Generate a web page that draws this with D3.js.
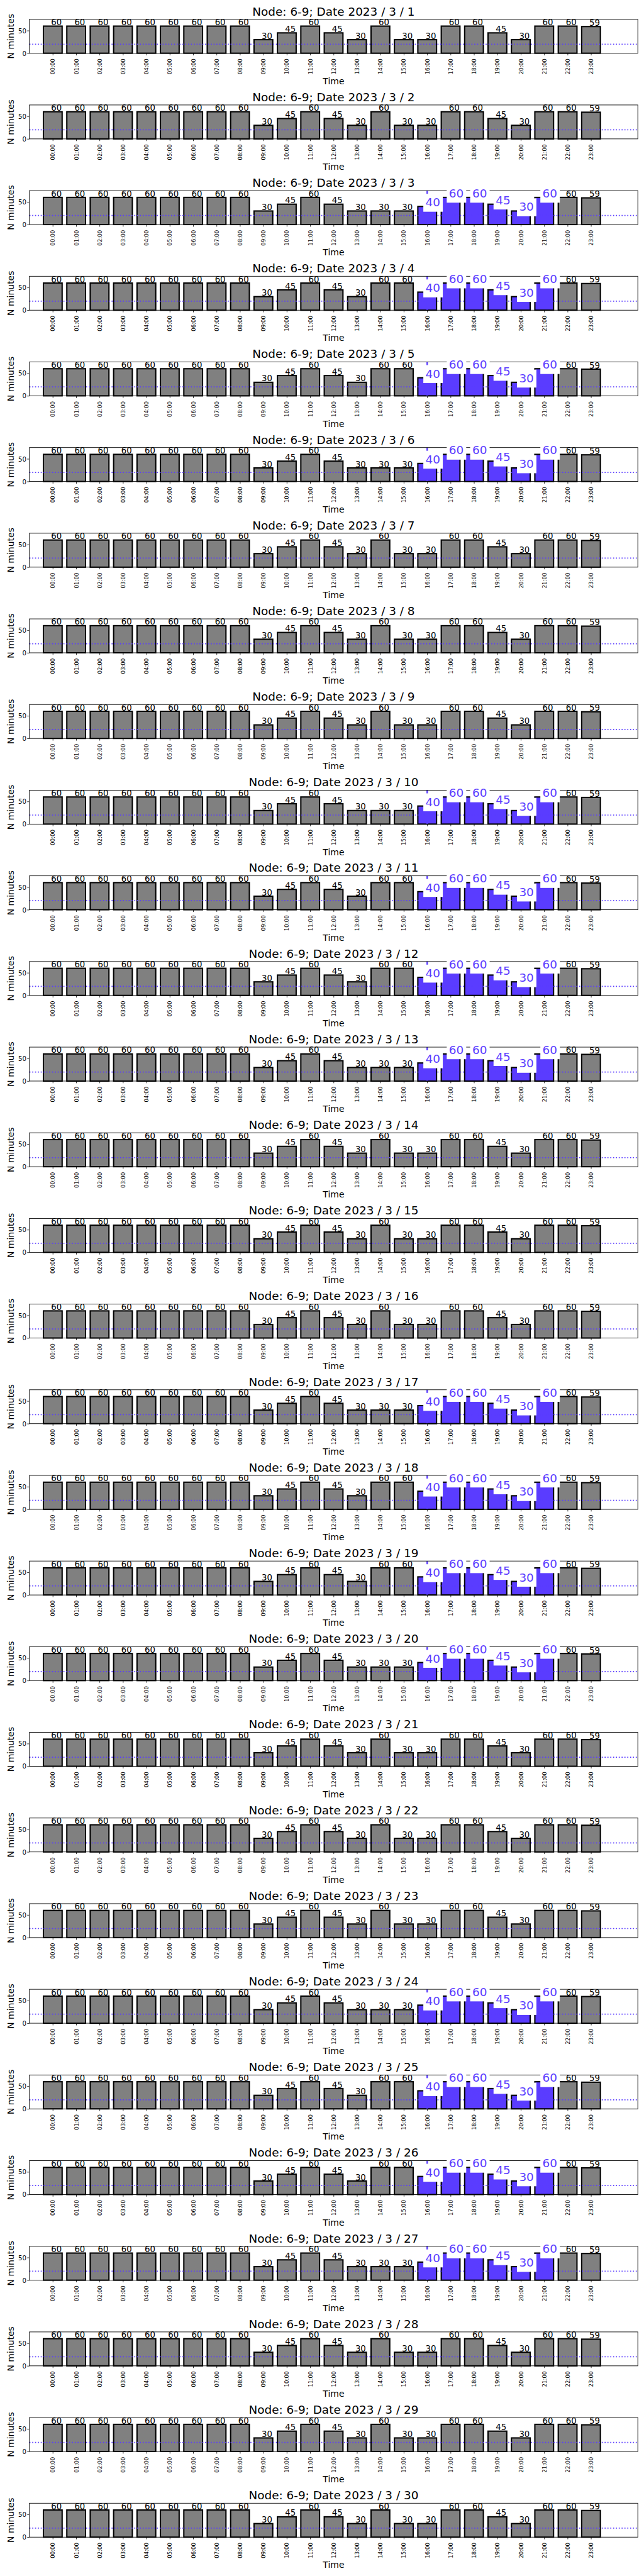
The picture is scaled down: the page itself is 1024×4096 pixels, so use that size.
<!DOCTYPE html>
<html>
<head>
<meta charset="utf-8">
<script src="https://cdn.jsdelivr.net/npm/d3@7"></script>
<style>
  html, body { margin: 0; padding: 0; background: #fff; }
  svg { display: block; }
  text { font-family: "DejaVu Sans", sans-serif; }
</style>
</head>
<body>
<div id="chart"></div>
<script>
// ---------------- data ----------------
const hours = ["00:00","01:00","02:00","03:00","04:00","05:00","06:00","07:00",
               "08:00","09:00","10:00","11:00","12:00","13:00","14:00","15:00",
               "16:00","17:00","18:00","19:00","20:00","21:00","22:00","23:00"];
const node = "6-9";
const dates = ["2023 / 3 / 1","2023 / 3 / 2","2023 / 3 / 3","2023 / 3 / 4","2023 / 3 / 5",
               "2023 / 3 / 6","2023 / 3 / 7","2023 / 3 / 8","2023 / 3 / 9","2023 / 3 / 10",
               "2023 / 3 / 11","2023 / 3 / 12","2023 / 3 / 13","2023 / 3 / 14","2023 / 3 / 15",
               "2023 / 3 / 16","2023 / 3 / 17","2023 / 3 / 18","2023 / 3 / 19","2023 / 3 / 20",
               "2023 / 3 / 21","2023 / 3 / 22","2023 / 3 / 23","2023 / 3 / 24","2023 / 3 / 25",
               "2023 / 3 / 26","2023 / 3 / 27","2023 / 3 / 28","2023 / 3 / 29","2023 / 3 / 30"];
// minutes per hour, one row per date
const minutes = [
  [60,60,60,60,60,60,60,60,60,30,45,60,45,30,60,30,30,60,60,45,30,60,60,59], // 3/1
  [60,60,60,60,60,60,60,60,60,30,45,60,45,30,60,30,30,60,60,45,30,60,60,59], // 3/2
  [60,60,60,60,60,60,60,60,60,30,45,60,45,30,30,30,40,60,60,45,30,60,60,59], // 3/3
  [60,60,60,60,60,60,60,60,60,30,45,60,45,30,60,60,40,60,60,45,30,60,60,59], // 3/4
  [60,60,60,60,60,60,60,60,60,30,45,60,45,30,60,60,40,60,60,45,30,60,60,59], // 3/5
  [60,60,60,60,60,60,60,60,60,30,45,60,45,30,30,30,40,60,60,45,30,60,60,59], // 3/6
  [60,60,60,60,60,60,60,60,60,30,45,60,45,30,60,30,30,60,60,45,30,60,60,59], // 3/7
  [60,60,60,60,60,60,60,60,60,30,45,60,45,30,60,30,30,60,60,45,30,60,60,59], // 3/8
  [60,60,60,60,60,60,60,60,60,30,45,60,45,30,60,30,30,60,60,45,30,60,60,59], // 3/9
  [60,60,60,60,60,60,60,60,60,30,45,60,45,30,30,30,40,60,60,45,30,60,60,59], // 3/10
  [60,60,60,60,60,60,60,60,60,30,45,60,45,30,60,60,40,60,60,45,30,60,60,59], // 3/11
  [60,60,60,60,60,60,60,60,60,30,45,60,45,30,60,60,40,60,60,45,30,60,60,59], // 3/12
  [60,60,60,60,60,60,60,60,60,30,45,60,45,30,30,30,40,60,60,45,30,60,60,59], // 3/13
  [60,60,60,60,60,60,60,60,60,30,45,60,45,30,60,30,30,60,60,45,30,60,60,59], // 3/14
  [60,60,60,60,60,60,60,60,60,30,45,60,45,30,60,30,30,60,60,45,30,60,60,59], // 3/15
  [60,60,60,60,60,60,60,60,60,30,45,60,45,30,60,30,30,60,60,45,30,60,60,59], // 3/16
  [60,60,60,60,60,60,60,60,60,30,45,60,45,30,30,30,40,60,60,45,30,60,60,59], // 3/17
  [60,60,60,60,60,60,60,60,60,30,45,60,45,30,60,60,40,60,60,45,30,60,60,59], // 3/18
  [60,60,60,60,60,60,60,60,60,30,45,60,45,30,60,60,40,60,60,45,30,60,60,59], // 3/19
  [60,60,60,60,60,60,60,60,60,30,45,60,45,30,30,30,40,60,60,45,30,60,60,59], // 3/20
  [60,60,60,60,60,60,60,60,60,30,45,60,45,30,60,30,30,60,60,45,30,60,60,59], // 3/21
  [60,60,60,60,60,60,60,60,60,30,45,60,45,30,60,30,30,60,60,45,30,60,60,59], // 3/22
  [60,60,60,60,60,60,60,60,60,30,45,60,45,30,60,30,30,60,60,45,30,60,60,59], // 3/23
  [60,60,60,60,60,60,60,60,60,30,45,60,45,30,30,30,40,60,60,45,30,60,60,59], // 3/24
  [60,60,60,60,60,60,60,60,60,30,45,60,45,30,60,60,40,60,60,45,30,60,60,59], // 3/25
  [60,60,60,60,60,60,60,60,60,30,45,60,45,30,60,60,40,60,60,45,30,60,60,59], // 3/26
  [60,60,60,60,60,60,60,60,60,30,45,60,45,30,30,30,40,60,60,45,30,60,60,59], // 3/27
  [60,60,60,60,60,60,60,60,60,30,45,60,45,30,60,30,30,60,60,45,30,60,60,59], // 3/28
  [60,60,60,60,60,60,60,60,60,30,45,60,45,30,60,30,30,60,60,45,30,60,60,59], // 3/29
  [60,60,60,60,60,60,60,60,60,30,45,60,45,30,60,30,30,60,60,45,30,60,60,59]  // 3/30
];
// dates whose evening window is highlighted
const highlightDates = ["2023 / 3 / 3","2023 / 3 / 4","2023 / 3 / 5","2023 / 3 / 6",
                        "2023 / 3 / 10","2023 / 3 / 11","2023 / 3 / 12","2023 / 3 / 13",
                        "2023 / 3 / 17","2023 / 3 / 18","2023 / 3 / 19","2023 / 3 / 20",
                        "2023 / 3 / 24","2023 / 3 / 25","2023 / 3 / 26","2023 / 3 / 27"];
const highlightHours = ["16:00","17:00","18:00","19:00","20:00","21:00"];
const markerHour = "16:00";
const threshold = 20;
const yTicks = [0, 50];
const yMax = 75;

// ---------------- layout (reference pixel space 1500 x 6000) ----------------
const W = 1500, H = 6000;
const axLeft = 68.4, axRight = 1485.6, axTop0 = 45, axH = 79, pitch = 199.5;
const BLUE = "#5a3cff", GRAY = "#808080";

const svg = d3.select("#chart").append("svg")
  .attr("width", 1024).attr("height", 4096)
  .attr("viewBox", `0 0 ${W} ${H}`);
svg.append("rect").attr("width", W).attr("height", H).attr("fill", "#fff");

const x = d3.scaleLinear().domain([-1, 25]).range([axLeft, axRight]);

dates.forEach((date, di) => {
  const top = axTop0 + di * pitch, bottom = top + axH;
  const y = d3.scaleLinear().domain([0, yMax]).range([bottom, top]);
  const vals = minutes[di];
  const hl = highlightDates.includes(date);
  const isHL = i => hl && highlightHours.includes(hours[i]);
  const g = svg.append("g");

  // bars
  g.selectAll("rect.bar").data(vals).join("rect")
    .attr("x", (d, i) => x(i - 0.4))
    .attr("width", x(0.4) - x(-0.4))
    .attr("y", d => y(d))
    .attr("height", d => y(0) - y(d))
    .attr("fill", (d, i) => isHL(i) ? BLUE : GRAY)
    .attr("stroke", "#000").attr("stroke-width", 3);

  // threshold line
  g.append("line")
    .attr("x1", axLeft).attr("x2", axRight)
    .attr("y1", y(threshold)).attr("y2", y(threshold))
    .attr("stroke", BLUE).attr("stroke-width", 2.5)
    .attr("stroke-dasharray", "2.5,4.1");

  // marker line
  if (hl) {
    const mx = x(hours.indexOf(markerHour));
    g.append("line").attr("x1", mx).attr("x2", mx)
      .attr("y1", top).attr("y2", bottom)
      .attr("stroke", BLUE).attr("stroke-width", 3.5);
  }

  // frame
  g.append("rect").attr("x", axLeft).attr("y", top)
    .attr("width", axRight - axLeft).attr("height", axH)
    .attr("fill", "none").attr("stroke", "#000").attr("stroke-width", 1.3);

  // x axis
  const gx = g.append("g").attr("transform", `translate(0,${bottom})`)
    .call(d3.axisBottom(x).tickValues(d3.range(hours.length))
      .tickFormat(i => hours[i]).tickSize(5).tickPadding(0));
  gx.select(".domain").remove();
  gx.selectAll(".tick line").attr("stroke", "#000").attr("stroke-width", 1.2);
  gx.selectAll(".tick text")
    .attr("transform", "rotate(-90)")
    .attr("text-anchor", "end")
    .attr("x", -12.7).attr("y", 0).attr("dy", "0.35em")
    .attr("font-size", 12.7).attr("fill", "#000")
    .attr("font-family", "DejaVu Sans");

  // y axis
  const gy = g.append("g").attr("transform", `translate(${axLeft},0)`)
    .call(d3.axisLeft(y).tickValues(yTicks).tickSize(5).tickPadding(2));
  gy.select(".domain").remove();
  gy.selectAll(".tick line").attr("stroke", "#000").attr("stroke-width", 1.2);
  gy.selectAll(".tick text").attr("font-size", 15).attr("fill", "#000")
    .attr("font-family", "DejaVu Sans").attr("dy", "0.35em");

  // value labels
  vals.forEach((v, i) => {
    const tx = x(i) - 4;
    if (isHL(i)) {
      const t = g.append("text").attr("x", tx).attr("y", y(v))
        .attr("font-size", 27).attr("fill", BLUE).text(v);
      const w = t.node().getComputedTextLength();
      g.insert("rect", () => t.node())
        .attr("x", tx - 5).attr("y", y(v) - 29.5)
        .attr("width", w + 11).attr("height", 41.8)
        .attr("fill", "#fff");
    } else {
      g.append("text").attr("x", tx).attr("y", y(v) - 2)
        .attr("font-size", 19.5).attr("fill", "#000").text(v);
    }
  });

  // titles
  g.append("text").attr("x", (axLeft + axRight) / 2).attr("y", top - 9)
    .attr("text-anchor", "middle").attr("font-size", 27)
    .text(`Node: ${node}; Date ${date}`);
  g.append("text").attr("x", (axLeft + axRight) / 2).attr("y", bottom + 72)
    .attr("text-anchor", "middle").attr("font-size", 20.5).text("Time");
  g.append("text")
    .attr("transform", `translate(32,${(top + bottom) / 2}) rotate(-90)`)
    .attr("text-anchor", "middle").attr("font-size", 20.5).text("N minutes");
});
</script>
</body>
</html>
